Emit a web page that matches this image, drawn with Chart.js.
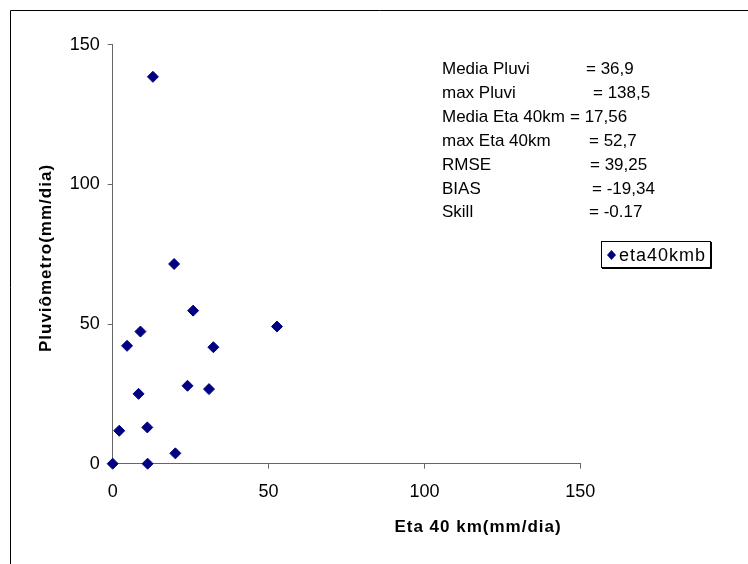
<!DOCTYPE html>
<html>
<head>
<meta charset="utf-8">
<title>Pluviômetro x Eta 40 km</title>
<script src="https://cdn.jsdelivr.net/npm/chart.js"></script>
<style>
    body {
        margin: 0;
        background: #ffffff;
    }
</style>
</head>
<body>
<canvas id="scatter" width="748" height="564"></canvas>

<script>
    // daily values: model (x) against rain gauge (y)
    const etaValues = [0, 11.2, 2.1, 11.1, 20.1, 8.3, 24.0, 30.9, 4.6, 8.9, 32.3, 25.8, 19.7, 52.7, 12.9];
    const pluviValues = [0, 0, 11.8, 13.0, 3.7, 25.0, 27.9, 26.7, 42.2, 47.3, 41.7, 54.8, 71.5, 49.1, 138.5];
    const axisTicks = [0, 50, 100, 150];

    const seriesName = 'eta40kmb';
    const xTitle = 'Eta 40 km(mm/dia)';
    const yTitle = 'Pluviômetro(mm/dia)';

    const statLabels = ['Media Pluvi', 'max Pluvi', 'Media Eta 40km', 'max Eta 40km', 'RMSE', 'BIAS', 'Skill'];
    const statValues = ['36,9', '138,5', '17,56', '52,7', '39,25', '-19,34', '-0.17'];

    const FONT = 'Arial, "Liberation Sans", sans-serif';
    const NAVY = '#000080';
    const AXIS = '#666666';

    // x position of the "=" on each stats line
    const eqX = [586, 593, 570, 589, 590, 592, 589];

    const annotations = {
        id: 'annotations',
        afterDraw(chart) {
            const ctx = chart.ctx;
            ctx.save();

            // frame (only left and top edges fall inside the canvas)
            ctx.strokeStyle = '#000000';
            ctx.lineWidth = 1;
            ctx.beginPath();
            ctx.moveTo(10.5, 564);
            ctx.lineTo(10.5, 10.5);
            ctx.lineTo(748, 10.5);
            ctx.stroke();

            // stats block
            ctx.fillStyle = '#000000';
            ctx.font = '17px ' + FONT;
            ctx.textBaseline = 'alphabetic';
            ctx.textAlign = 'left';
            statLabels.forEach((lbl, i) => {
                const y = 74 + i * 23.9;
                ctx.fillText(lbl, 442, y);
                ctx.fillText('= ' + statValues[i], eqX[i], y);
            });

            // legend box with a small shadow
            ctx.strokeStyle = '#000000';
            ctx.strokeRect(601.5, 241.5, 109, 26);
            ctx.beginPath();
            ctx.moveTo(602, 268.5);
            ctx.lineTo(711.5, 268.5);
            ctx.lineTo(711.5, 242);
            ctx.stroke();
            ctx.fillStyle = NAVY;
            ctx.strokeStyle = NAVY;
            ctx.beginPath();
            ctx.moveTo(607, 255);
            ctx.lineTo(611.5, 250);
            ctx.lineTo(616, 255);
            ctx.lineTo(611.5, 260);
            ctx.closePath();
            ctx.fill();
            ctx.fillStyle = '#000000';
            ctx.letterSpacing = '1px';
            ctx.font = '18px ' + FONT;
            ctx.fillText(seriesName, 619, 261);

            // axis titles
            ctx.font = 'bold 17px ' + FONT;
            ctx.textAlign = 'center';
            ctx.fillText(xTitle, 478, 532);

            ctx.translate(51, 258);
            ctx.rotate(-Math.PI / 2);
            ctx.fillText(yTitle, 0, 0);

            ctx.restore();
        }
    };

    const axisOpts = {
        type: 'linear',
        min: 0,
        max: 150,
        border: { display: true, color: AXIS, width: 1 },
        grid: {
            drawOnChartArea: false,
            drawTicks: true,
            tickLength: 5,
            color: AXIS,
        },
        afterBuildTicks: (scale) => {
            scale.ticks = axisTicks.map(v => ({ value: v }));
        },
    };

    new Chart(document.getElementById('scatter'), {
        type: 'scatter',
        data: {
            datasets: [{
                label: seriesName,
                data: etaValues.map((x, i) => ({ x: x, y: pluviValues[i] })),
                pointStyle: 'rectRot',
                pointRadius: 5.5,
                pointHoverRadius: 5.5,
                borderWidth: 1,
                backgroundColor: NAVY,
                borderColor: NAVY,
                clip: false,
            }]
        },
        options: {
            responsive: false,
            animation: false,
            devicePixelRatio: 1,
            layout: {
                padding: { left: 0, top: 44.7, right: 167.7, bottom: 0 }
            },
            scales: {
                x: Object.assign({}, axisOpts, {
                    position: 'bottom',
                    ticks: { color: '#000000', padding: 13, font: { family: FONT, size: 18 } },
                    afterFit: (scale) => { scale.height = 564 - 463.7; },
                }),
                y: Object.assign({}, axisOpts, {
                    position: 'left',
                    ticks: { color: '#000000', padding: 8, font: { family: FONT, size: 18 } },
                    afterFit: (scale) => { scale.width = 112.7; },
                }),
            },
            plugins: {
                legend: { display: false },
                tooltip: { enabled: false },
            }
        },
        plugins: [annotations]
    });
</script>
</body>
</html>
